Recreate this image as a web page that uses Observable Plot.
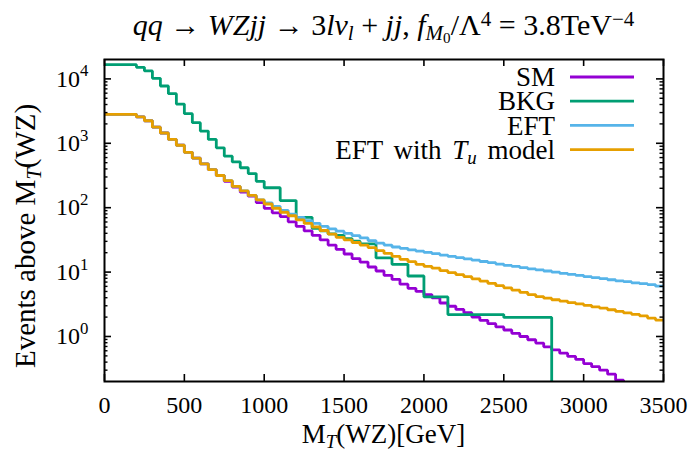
<!DOCTYPE html>
<html><head><meta charset="utf-8">
<script src="https://cdn.jsdelivr.net/npm/d3@7"></script>
<script src="https://cdn.jsdelivr.net/npm/@observablehq/plot@0.6"></script>
<style>
body{margin:0;background:#fff;font-family:'Liberation Serif',serif}
#wrap{width:690px}
#title{height:45px;line-height:49px;font-size:30px;text-align:center;padding-left:77px;box-sizing:border-box;white-space:nowrap;color:#000}
#title sub,#title sup{font-size:70%;line-height:0;position:relative;vertical-align:baseline}
#title sub{top:0.25em}
#title sup{top:-0.45em}
#title sub sub{font-size:72%;top:0.2em}
#chart svg{display:block}
</style>
</head><body><div id="wrap">
<div id="title"><i>qq</i> → <i>WZjj</i> → 3<i>lν</i><sub><i>l</i></sub> + <i>jj</i>, <i>f</i><sub><i>M</i><sub>0</sub></sub>/Λ<sup>4</sup> = 3.8TeV<sup>−4</sup></div>
<div id="chart"></div></div>
<script>
// Lower edges of the 50 GeV bins of M_T(WZ) [GeV]; the last bin ends at binEnd
const binEdges = [0,50,100,150,200,250,300,350,400,450,
  500,550,600,650,700,750,800,850,900,950,
  1000,1050,1100,1150,1200,1250,1300,1350,1400,1450,
  1500,1550,1600,1650,1700,1750,1800,1850,1900,1950,
  2000,2050,2100,2150,2200,2250,2300,2350,2400,2450,
  2500,2550,2600,2650,2700,2750,2800,2850,2900,2950,
  3000,3050,3100,3150,3200,3250,3300,3350,3400,3450];
const binEnd = 3500;

// Events above M_T(WZ), one value per bin edge
const sm = [2820,2820,2820,2820,2570,2240,1780,1445,1150,933,
  724,589,479,389,316,257,209,174,151,120,
  97.7,83.2,72.4,60.3,51.3,43.6,37.2,31.6,26.3,22.6,
  19.1,16.2,14.3,12.0,10.4,8.9,7.7,6.5,5.6,5.0,
  4.47,3.98,3.31,2.95,2.63,2.34,2.0,1.78,1.58,1.41,
  1.26,1.12,1.0,0.89,0.79,0.69,0.62,0.55,0.49,0.44,
  0.38,0.34,0.30,0.26,0.21,0.18,0.16,0.14,0.12,0.10];
const bkg = [16600,16600,16600,16600,15100,13300,10200,7760,5890,4070,
  2880,2090,1550,1150,851,631,513,417,339,257,
  204,204,129,129,70.8,70.8,47.9,43.7,39.1,37.2,
  33.1,30.2,27.5,27.5,16.6,16.6,13.2,13.2,8.7,8.7,
  4.12,4.12,4.12,2.19,2.19,2.19,2.19,2.19,2.19,2.19,
  1.98,1.98,1.98,1.98,1.98,1.98,0,0,0,0,
  0,0,0,0,0,0,0,0,0,0];
const eft = [2820,2820,2820,2820,2570,2240,1780,1445,1150,933,
  724,589,479,389,316,263,214,182,155,132,
  119,105,91,79.4,70.8,63.1,56.9,51.3,46.8,43.2,
  39.8,36.7,33.9,30.9,28.2,26.3,24.5,23.4,22.1,21.1,
  20.2,19.3,18.4,17.6,16.8,16.0,15.3,14.6,14.0,13.3,
  12.7,12.3,11.7,11.2,10.8,10.4,10.0,9.55,9.2,8.9,
  8.5,8.2,7.9,7.6,7.3,7.1,6.8,6.6,6.4,6.05];
const eftTu = [2820,2820,2820,2820,2570,2240,1780,1445,1150,933,
  724,589,479,389,316,263,214,182,155,132,
  114,98,85,75,64.6,56.9,50.1,44.2,38.9,34.7,
  31.6,28.8,26.3,24.0,21.6,19.5,17.6,15.8,14.5,13.2,
  12.3,11.5,10.5,9.8,9.1,8.5,7.85,7.25,6.7,6.15,
  5.7,5.25,4.85,4.47,4.17,3.94,3.72,3.55,3.35,3.2,
  3.05,2.88,2.75,2.6,2.45,2.32,2.21,2.09,1.93,1.8];

const seriesKeys = ["SM","BKG","EFT","EFTTu"];
const seriesColors = ["#9400d3","#009e73","#56b4e9","#e69f00"];
const xTicks = [0,500,1000,1500,2000,2500,3000,3500];
const yTicks = [1,10,100,1000,10000];
const xDomain = [0,3500];
const yDomain = [0.2,20000];

// layout (SVG sits under a 45px HTML title)
const TOP = 45;
const W = 690, H = 452 - TOP, mT = 59 - TOP, mB = 71, mL = 104, mR = 27;
const fw = W - mL - mR, fh = H - mT - mB;
const FS_TICK = 24, FS_XLAB = 27, FS_YLAB = 29, FS_LEG = 27;
const FONT = "Liberation Serif";

const seriesVals = [sm, bkg, eft, eftTu];
function steps(vals){
  const pts = binEdges.map((m,i)=>({M:m, v: vals[i] > 0 ? vals[i] : 1e-4}));
  pts.push({M: binEnd, v: pts[pts.length-1].v});
  return pts;
}
const yMinor = [];
for (let e = -1; e <= 4; e++) for (let k = 2; k <= 9; k++) {
  const v = k * Math.pow(10, e);
  if (v > yDomain[0] && v < yDomain[1]) yMinor.push(v);
}

const lines = seriesVals.map((vals,i)=>Plot.line(steps(vals), {
  x:"M", y:"v", curve:"step-after", stroke: seriesColors[i], strokeWidth: 2.8,
  strokeLinejoin:"miter", strokeLinecap:"butt", clip:true
}));

const chart = Plot.plot({
  width: W, height: H, marginTop: mT, marginBottom: mB, marginLeft: mL, marginRight: mR,
  style: {fontFamily: FONT, fontSize: FS_TICK + "px", background: "white", color: "black"},
  x: {domain: xDomain},
  y: {type: "log", domain: yDomain},
  marks: [
    ...lines,
    Plot.tickX(xTicks, {x: d=>d, insetTop: fh - 7, stroke:"black", strokeWidth: 1.6}),
    Plot.tickX(xTicks, {x: d=>d, insetBottom: fh - 7, stroke:"black", strokeWidth: 1.6}),
    Plot.tickY(yTicks, {y: d=>d, insetRight: fw - 7, stroke:"black", strokeWidth: 1.6}),
    Plot.tickY(yTicks, {y: d=>d, insetLeft: fw - 7, stroke:"black", strokeWidth: 1.6}),
    Plot.tickY(yMinor, {y: d=>d, insetRight: fw - 3.5, stroke:"black", strokeWidth: 1.4}),
    Plot.tickY(yMinor, {y: d=>d, insetLeft: fw - 3.5, stroke:"black", strokeWidth: 1.4}),
    Plot.frame({stroke:"black", strokeWidth: 2}),
    Plot.axisX({ticks: xTicks, tickSize: 0, tickPadding: 14, label: null, tickFormat: d => String(d)}),
    Plot.axisY({ticks: yTicks, tickSize: 0, tickPadding: 16, label: null, tickFormat: d => String(Math.round(Math.log10(d)))})
  ]
});
document.getElementById("chart").appendChild(chart);

const svg = d3.select(chart).attr("font-family", FONT);
function rich(textSel, segs, fs){
  let prev = 0;
  textSel.attr("font-family", FONT);
  for (const [t, o = {}] of segs) {
    const sh = (o.s || 0) * fs;
    const ts = textSel.append("tspan").text(t);
    if (sh !== prev) ts.attr("dy", -(sh - prev));
    if (o.i) ts.attr("font-style", "italic");
    if (o.z) ts.attr("font-size", o.z * fs);
    prev = sh;
  }
}
// y tick labels as powers of ten
svg.selectAll('g[aria-label="y-axis tick label"] text').each(function(){
  const e = this.textContent;
  const s = d3.select(this); s.text(null);
  rich(s, [["10"], [e, {s: 0.42, z: 0.7}]], FS_TICK);
});

const R = W - mR;
// x label
const xl = svg.append("text").attr("x", mL + fw/2).attr("y", 443 - TOP).attr("text-anchor","middle")
  .attr("font-size", FS_XLAB).attr("fill","black");
rich(xl, [["M"],["T",{i:1,s:-0.2,z:0.7}],["(WZ)[GeV]"]], FS_XLAB);

// y label
const yl = svg.append("text").attr("transform",`translate(35,${236 - TOP}) rotate(-90)`).attr("text-anchor","middle")
  .attr("font-size", FS_YLAB).attr("fill","black");
rich(yl, [["Events above M"],["T",{i:1,s:-0.2,z:0.7}],["(WZ)"]], FS_YLAB);

// legend
const legendLabels = [[["SM"]],[["BKG"]],[["EFT"]],[["EFT with "],["T",{i:1}],["u",{i:1,s:-0.2,z:0.7}],[" model"]]];
legendLabels.forEach((segs,i)=>{
  const y = mT + 18 + 24.2*i;
  svg.append("line").attr("x1", R-93).attr("x2", R-29).attr("y1", y).attr("y2", y)
    .attr("stroke", seriesColors[i]).attr("stroke-width", 2.8);
  const t = svg.append("text").attr("x", R-108).attr("y", y).attr("dy","0.34em")
    .attr("text-anchor","end").attr("font-size", FS_LEG).attr("word-spacing", 4).attr("fill","black");
  rich(t, segs, FS_LEG);
});
</script></body></html>
